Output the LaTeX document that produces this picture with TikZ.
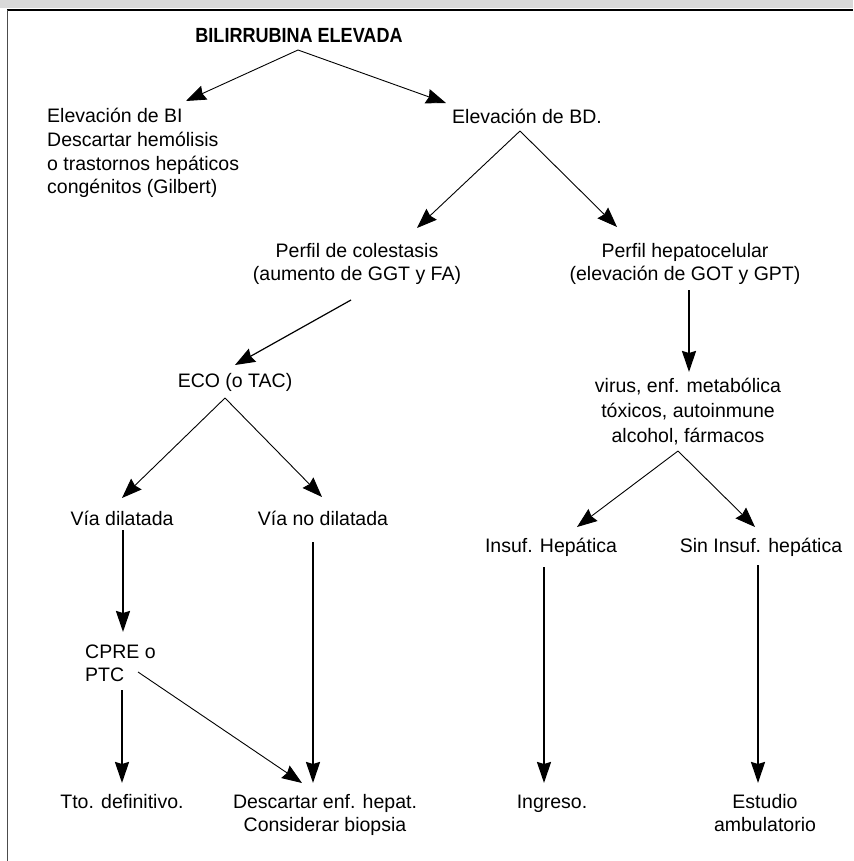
\documentclass[tikz,border=0pt]{standalone}
\usepackage{fontspec}
\setmainfont{Liberation Sans}
\usetikzlibrary{arrows.meta}
\begin{document}
\begin{tikzpicture}[x=1pt,y=-1pt,
  txt/.style={inner sep=0pt, anchor=base, font=\fontsize{19.5}{23.5}\selectfont, align=center},
  txtl/.style={txt, align=left, anchor=base west},
  tarrow/.style={line width=0.9pt, -{Stealth[length=20pt,width=15pt,inset=2pt]}},
  karrow/.style={line width=2.2pt, -{Stealth[length=21pt,width=14pt,inset=2pt]}},
]
\useasboundingbox (0,0) rectangle (853,861);
\fill[black!15] (0,0) rectangle (853,8.5);
\draw[line width=1.5pt] (7,10) -- (853,10);
\draw[line width=1.5pt, black!70] (7.5,10) -- (7.5,861);

% texts (multi-line nodes are placed by the baseline of their last line)
\node[txt, font=\bfseries\fontsize{20.5}{24}\selectfont, xscale=0.88] (title) at (299,43) {BILIRRUBINA ELEVADA};
\node[txtl] (bi) at (47,193.5) {Elevación de BI\\Descartar hemólisis\\o trastornos hepáticos\\congénitos (Gilbert)};
\node[txt] (bd) at (527,124) {Elevación de BD.};
\node[txt] (col) at (357,280.5) {Perfil de colestasis\\(aumento de GGT y FA)};
\node[txt] (hep) at (685,280.5) {Perfil hepatocelular\\(elevación de GOT y GPT)};
\node[txt] (eco) at (235,387) {ECO (o TAC)};
\node[txt, font=\fontsize{19.5}{25}\selectfont] (vir) at (688,442) {virus, enf. metabólica\\tóxicos, autoinmune\\alcohol, fármacos};
\node[txt] (vd) at (122,525) {Vía dilatada};
\node[txt] (vnd) at (323,525) {Vía no dilatada};
\node[txt] (ih) at (551,552) {Insuf. Hepática};
\node[txt] (sih) at (761,552) {Sin Insuf. hepática};
\node[txtl] (cpre) at (85,681.5) {CPRE o\\PTC};
\node[txt] (tto) at (122,808) {Tto. definitivo.};
\node[txt] (desc) at (325,831.5) {Descartar enf. hepat.\\Considerar biopsia};
\node[txt] (ing) at (552,808) {Ingreso.};
\node[txt] (est) at (765,831.5) {Estudio\\ambulatorio};

% connector end points
\coordinate (titleS) at (298,50);
\coordinate (biN) at (186,101);
\coordinate (bdW) at (446,103);
\coordinate (bdS) at (520,131);
\coordinate (colN) at (417,228);
\coordinate (hepN) at (617,227);
\coordinate (colS) at (351,300);
\coordinate (ecoN) at (235,365);
\coordinate (hepS) at (689,290);
\coordinate (virN) at (689,372);
\coordinate (ecoS) at (225,398);
\coordinate (vdN) at (122,498);
\coordinate (vndN) at (322,497);
\coordinate (virS) at (678,451);
\coordinate (ihN) at (577,527);
\coordinate (sihN) at (755,527);
\coordinate (vdS) at (123,530);
\coordinate (cpreN) at (123,632);
\coordinate (vndS) at (313,542);
\coordinate (descN) at (313,783);
\coordinate (cpreS) at (122,690);
\coordinate (ttoN) at (122,783);
\coordinate (cpreE) at (138,672);
\coordinate (descNW) at (302,783);
\coordinate (ihS) at (544,567);
\coordinate (ingN) at (544,783);
\coordinate (sihS) at (758,565);
\coordinate (estN) at (758,783);

\draw[tarrow] (titleS) -- (biN);
\draw[tarrow] (titleS) -- (bdW);
\draw[tarrow] (bdS) -- (colN);
\draw[tarrow] (bdS) -- (hepN);
\draw[tarrow, line width=1.2pt] (colS) -- (ecoN);
\draw[karrow] (hepS) -- (virN);
\draw[tarrow] (ecoS) -- (vdN);
\draw[tarrow] (ecoS) -- (vndN);
\draw[tarrow] (virS) -- (ihN);
\draw[tarrow] (virS) -- (sihN);
\draw[karrow] (vdS) -- (cpreN);
\draw[karrow] (vndS) -- (descN);
\draw[karrow] (cpreS) -- (ttoN);
\draw[tarrow] (cpreE) -- (descNW);
\draw[karrow] (ihS) -- (ingN);
\draw[karrow] (sihS) -- (estN);
\end{tikzpicture}
\end{document}
